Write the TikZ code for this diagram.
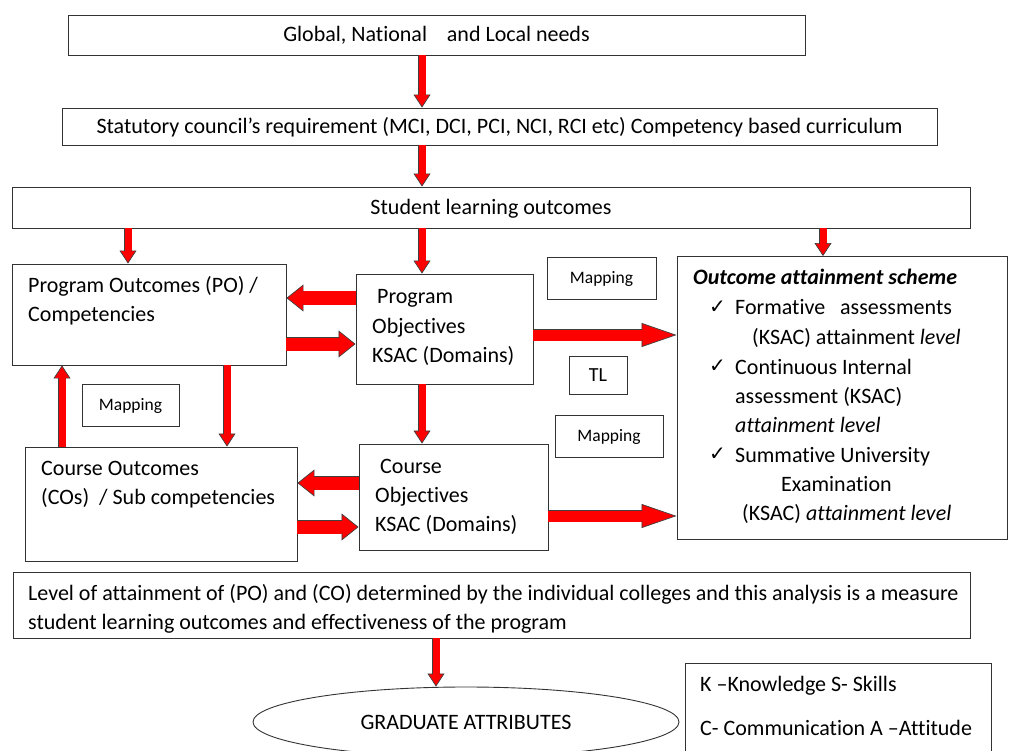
\documentclass[tikz,border=0pt]{standalone}
\usepackage{fontspec}
\setmainfont{Carlito}[Ligatures=CommonOff]
\newfontfamily\symfont{DejaVu Sans}
\usetikzlibrary{arrows.meta,shapes.geometric,positioning}

\newcommand{\checkmk}{{\symfont\fontsize{20}{20}\selectfont ✓}}

\tikzset{
  box/.style={draw=black!80, line width=0.9pt, inner sep=0pt, text height=18pt, text depth=4pt},
  txt/.style={inner sep=0pt, anchor=west, text height=18pt, text depth=4pt},
  redarrow/.style n args={3}{line width=#1, red,
    -{Triangle[width=#2, length=#3, fill=red, color=black!75, line width=0.7pt]},
    preaction={draw=black!75, line width=#1+1.4pt, -, shorten >=#3-1pt},
    postaction={draw=red, line width=#1-0.2pt, -, shorten >=#3-2pt}},
  thinarrow/.style={redarrow={7pt}{17pt}{13pt}},
  widearrow/.style={redarrow={13pt}{27pt}{17pt}},
  longarrow/.style={redarrow={11pt}{24pt}{35pt}}
}

\begin{document}
\begin{tikzpicture}[x=1pt, y=-1pt, font=\fontsize{22}{29}\selectfont]

\fill [white] (0,0) rectangle (1009,751);
\useasboundingbox (0,0) rectangle (1009,751);
\clip (0,0) rectangle (1009,751);

% top chain
\node (needs) at (436.5, 35) [box, minimum width=737pt, minimum height=40pt] {Global, National\ \ \ \ and Local needs};
\node (council) at (499.5, 126.5) [box, minimum width=875pt, minimum height=37pt] {Statutory council’s requirement (MCI, DCI, PCI, NCI, RCI etc) Competency based curriculum};
\node (slo) at (491, 207.5) [box, minimum width=958pt, minimum height=41pt] {Student learning outcomes};

% middle boxes
\node (po) at (149, 314.5) [box, minimum width=274pt, minimum height=101pt] {};
\node (pobj) at (444.5, 329) [box, minimum width=177pt, minimum height=110pt] {};
\node (co) at (161, 504) [box, minimum width=272pt, minimum height=114pt] {};
\node (cobj) at (453.5, 497) [box, minimum width=189pt, minimum height=106pt] {};
\node (oas) at (842, 398) [box, minimum width=330pt, minimum height=283pt] {};

\node (map1) at (601.5, 278) [box, minimum width=109pt, minimum height=42pt, text height=14pt, text depth=3pt, font=\fontsize{17.5}{20}\selectfont] {Mapping};
\node (tl) at (598, 375) [box, minimum width=58pt, minimum height=38pt, text height=15pt, text depth=3pt, font=\fontsize{20}{24}\selectfont] {TL};
\node (map2) at (130.5, 405) [box, minimum width=97pt, minimum height=42pt, text height=14pt, text depth=3pt, font=\fontsize{17.5}{20}\selectfont] {Mapping};
\node (map3) at (609, 436) [box, minimum width=108pt, minimum height=42pt, text height=14pt, text depth=3pt, font=\fontsize{17.5}{20}\selectfont] {Mapping};

\node (po1) at (28, 286) [txt] {Program Outcomes (PO) /};
\node (po2) at (28, 314) [txt] {Competencies};

\node (pobj1) at (377, 296) [txt] {Program};
\node (pobj2) at (372, 326) [txt] {Objectives};
\node (pobj3) at (372, 355) [txt] {KSAC (Domains)};

\node (co1) at (41, 468) [txt] {Course Outcomes};
\node (co2) at (41, 497) [txt] {(COs)\ \ / Sub competencies};

\node (cobj1) at (380, 466) [txt] {Course};
\node (cobj2) at (375, 495) [txt] {Objectives};
\node (cobj3) at (375, 524) [txt] {KSAC (Domains)};

% attainment scheme
\node (oash) at (693, 278) [txt, font=\fontsize{22}{29}\selectfont\bfseries\itshape] {Outcome attainment scheme};
\node (ck1) at (709, 306) [txt] {\checkmk};
\node (fa1) at (735, 308) [txt] {Formative~~~assessments};
\node (fa2) at (752, 337) [txt] {(KSAC) attainment \textit{level}};
\node (ck2) at (709, 365) [txt] {\checkmk};
\node (ci1) at (735, 367) [txt] {Continuous Internal};
\node (ci2) at (735, 396) [txt] {assessment (KSAC)};
\node (ci3) at (735, 425) [txt] {\textit{attainment level}};
\node (ck3) at (709, 453) [txt] {\checkmk};
\node (su1) at (735, 455) [txt] {Summative University};
\node (su2) at (781, 484) [txt] {Examination};
\node (su3) at (742, 513) [txt] {(KSAC) \textit{attainment level}};

% bottom
\node (level) at (491.5, 605) [box, minimum width=957pt, minimum height=66pt] {};
\node (lv1) at (28, 593) [txt] {Level of attainment of (PO) and (CO) determined by the individual colleges and this analysis is a measure};
\node (lv2) at (28, 622) [txt] {student learning outcomes and effectiveness of the program};

\node (ga) at (466, 722) [ellipse, draw=black!80, line width=0.9pt, minimum width=426pt, minimum height=70pt, inner sep=0pt] {GRADUATE ATTRIBUTES};

\node (key) at (838, 720) [box, minimum width=306pt, minimum height=114pt] {};
\node (k1) at (700, 684) [txt] {K –Knowledge S- Skills};
\node (k2) at (700, 728) [txt] {C- Communication A –Attitude};

% arrows
\draw [thinarrow] (422,0 |- needs.south) -- (422,0 |- council.north);
\draw [thinarrow] (422,0 |- council.south) -- (422,0 |- slo.north);
\draw [thinarrow] (128,0 |- slo.south) -- (128,0 |- po.north);
\draw [thinarrow] (422,0 |- slo.south) -- (422,0 |- pobj.north);
\draw [thinarrow] (823,0 |- slo.south) -- (823,0 |- oas.north);

\draw [widearrow] (pobj.west |- 0,298) -- (po.east |- 0,298);
\draw [widearrow] (po.east |- 0,344) -- (pobj.west |- 0,344);
\draw [longarrow] (pobj.east |- 0,335) -- (oas.west |- 0,335);

\draw [thinarrow] (62,0 |- co.north) -- (62,0 |- po.south);
\draw [thinarrow] (227,0 |- po.south) -- (227,0 |- co.north);
\draw [thinarrow] (422,0 |- pobj.south) -- (422,0 |- cobj.north);

\draw [widearrow] (cobj.west |- 0,483) -- (co.east |- 0,483);
\draw [widearrow] (co.east |- 0,527) -- (cobj.west |- 0,527);
\draw [longarrow] (cobj.east |- 0,516) -- (oas.west |- 0,516);

\draw [thinarrow] (436,0 |- level.south) -- (436,0 |- ga.north);

\end{tikzpicture}
\end{document}
